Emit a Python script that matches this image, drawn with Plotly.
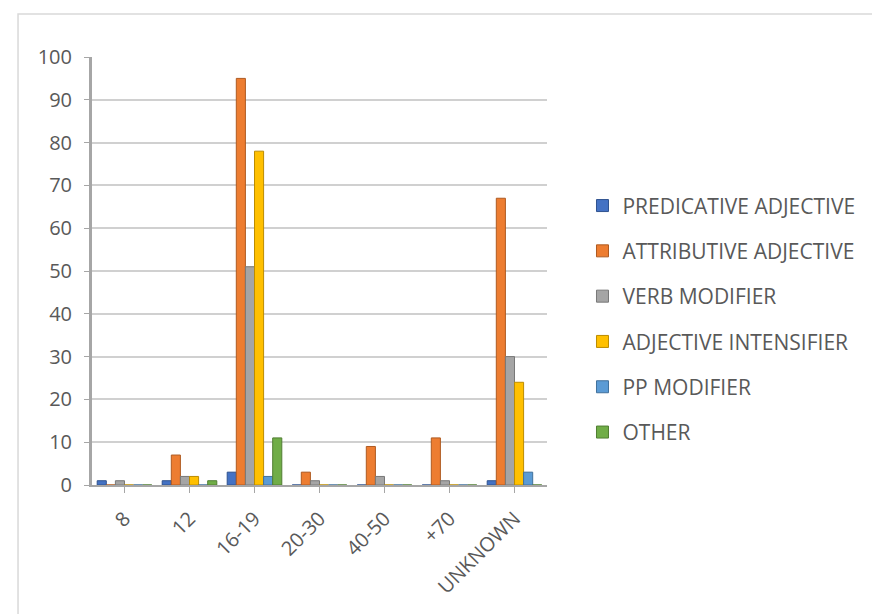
import plotly.graph_objects as go

# Age groups along the x axis
age_groups = ["8", "12", "16-19", "20-30", "40-50", "+70", "UNKNOWN"]

# Counts per function, one list per series
predicative_adjective = [1, 1, 3, 0, 0, 0, 1]
attributive_adjective = [0, 7, 95, 3, 9, 11, 67]
verb_modifier = [1, 2, 51, 1, 2, 1, 30]
adjective_intensifier = [0, 2, 78, 0, 0, 0, 24]
pp_modifier = [0, 0, 2, 0, 0, 0, 3]
other = [0, 1, 11, 0, 0, 0, 0]

y_ticks = list(range(0, 101, 10))

series = [
    ("PREDICATIVE ADJECTIVE", predicative_adjective, "#4472C4", "#2F528F"),
    ("ATTRIBUTIVE ADJECTIVE", attributive_adjective, "#ED7D31", "#AE5A21"),
    ("VERB MODIFIER", verb_modifier, "#A5A5A5", "#787878"),
    ("ADJECTIVE INTENSIFIER", adjective_intensifier, "#FFC000", "#BC8C00"),
    ("PP MODIFIER", pp_modifier, "#5B9BD5", "#41719C"),
    ("OTHER", other, "#70AD47", "#507E32"),
]

TEXT = "#595959"
FONT = "Open Sans"

fig = go.Figure()
for i, (name, vals, color, edge) in enumerate(series):
    fig.add_trace(go.Bar(
        x=age_groups, y=vals, name=name,
        marker=dict(color=color, line=dict(color=edge, width=1)),
        legendgroup=f"g{i}",
    ))

fig.update_layout(
    width=872, height=614,
    margin=dict(l=92, r=325, t=57, b=129),
    paper_bgcolor="white", plot_bgcolor="white",
    barmode="group", bargap=0.16, bargroupgap=0.0,
    font=dict(family=FONT, color=TEXT, size=20),
    showlegend=True,
    legend=dict(
        x=1.078, xanchor="left", y=0.70, yanchor="top",
        font=dict(family=FONT, size=21, color=TEXT),
        tracegroupgap=15, itemwidth=30,
        bgcolor="rgba(0,0,0,0)",
    ),
    xaxis=dict(
        tickangle=-45, showline=True, linecolor="#A6A6A6", linewidth=2,
        ticks="outside", ticklen=6, tickcolor="#A6A6A6",
        tickfont=dict(family=FONT, size=20, color=TEXT),
        ticklabelstandoff=6,
        showgrid=False, zeroline=False,
    ),
    yaxis=dict(
        range=[0, 100], tickvals=y_ticks, showline=True, linecolor="#A6A6A6",
        linewidth=3, ticks="outside", ticklen=5, tickcolor="#A6A6A6",
        tickfont=dict(family=FONT, size=20, color=TEXT),
        ticklabelstandoff=8,
        showgrid=True, gridcolor="#D0D0D0", gridwidth=2, zeroline=False,
    ),
    shapes=[dict(
        type="rect", xref="paper", yref="paper",
        x0=-0.1626, y0=-0.5, x1=2.0, y1=1.1005,
        line=dict(color="#D9D9D9", width=1.5), fillcolor="rgba(0,0,0,0)",
        layer="below",
    )],
)

fig.write_html("out.html")
